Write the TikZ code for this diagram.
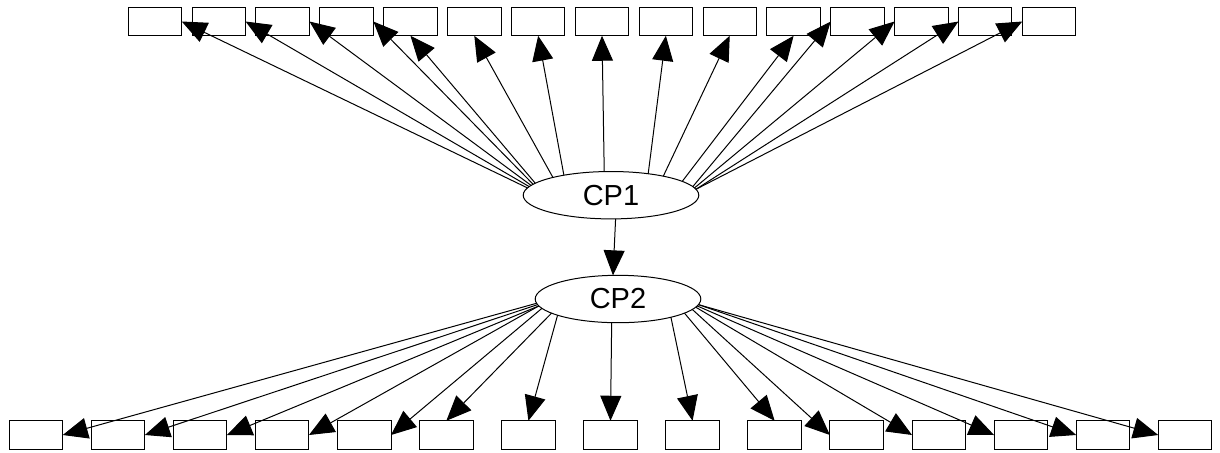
\documentclass[tikz,border=0pt]{standalone}
\usepackage{fontspec}
\setmainfont{Liberation Sans}
\usetikzlibrary{arrows.meta,shapes.geometric}
\begin{document}
\begin{tikzpicture}[x=0.5pt,y=-0.5pt,
  leaf/.style={draw, line width=0.5pt, minimum width=26.75pt, minimum height=14.25pt,
               inner sep=0pt, outer sep=0pt},
  hub/.style={draw, ellipse, line width=0.5pt, minimum height=23.7pt,
              inner sep=0pt, outer sep=0pt, font=\fontsize{14.5pt}{17pt}\selectfont},
  link/.style={line width=0.5pt, -{Triangle[length=12.5pt,width=10.5pt]}}]
\fill[white] (0,0) rectangle (1220,452);
\useasboundingbox (0,0) rectangle (1220,452);

% two rows of leaf boxes
\foreach \i in {1,...,15} {
  \node[leaf] (t\i) at ({155+63.86*(\i-1)},21.5) {};
  \node[leaf] (b\i) at ({36+82.07*(\i-1)},435) {};
}

% the two hubs
\node[hub, minimum width=87.8pt] (cp1) at (611,195.2) {CP1};
\node[hub, minimum width=82.8pt] (cp2) at (618,299) {CP2};

% CP1 fans out to the upper row
\foreach \a/\k/\side in {175.1/1/east, 174.4/2/east, 173.6/3/east, 172.7/4/east,
                         171.3/5/south, 163.4/6/south, 157.6/7/south, 106.5/8/south,
                         30.2/9/south, 20.2/10/south, 11.1/11/south,
                         6.4/12/west, 5.6/13/west, 4.8/14/west, 4.07/15/west}
  \draw[link] (cp1.\a) -- (t\k.\side);

% CP1 to CP2
\draw[link] (cp1.281) -- (cp2.102);

% CP2 fans out to the lower row
\foreach \a/\k/\side in {183.6/1/east, 184.3/2/east, 185.1/3/east, 185.9/4/east,
                         187.7/5/east, 192.0/6/north, 195.7/7/north, 255.8/8/north,
                         341.1/9/north, 348.8/10/north,
                         352.4/11/west, 354.1/12/west, 355.2/13/west, 356.0/14/west, 356.9/15/west}
  \draw[link] (cp2.\a) -- (b\k.\side);
\end{tikzpicture}
\end{document}
